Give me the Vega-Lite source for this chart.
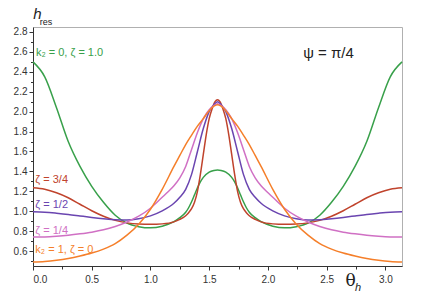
{
  "$schema": "https://vega.github.io/schema/vega-lite/v6.json",
  "autosize": "none",
  "width": 369,
  "height": 239,
  "padding": {"left": 33, "top": 27, "right": 28, "bottom": 34},
  "background": "white",
  "config": {
    "view": {"stroke": "#b0b0b0", "strokeWidth": 1},
    "font": "Liberation Sans",
    "axis": {"labelFont": "Liberation Sans", "labelFontSize": 10, "labelColor": "#333", "domainColor": "#333", "tickColor": "#333", "grid": false}
  },
  "datasets": {
    "curves": [
      {"s":"z1","t":0,"v":2.50},{"s":"z1","t":0.1,"v":2.35},{"s":"z1","t":0.2,"v":2.04},{"s":"z1","t":0.3,"v":1.70},{"s":"z1","t":0.4,"v":1.45},{"s":"z1","t":0.5,"v":1.25},{"s":"z1","t":0.6,"v":1.09},{"s":"z1","t":0.7,"v":0.96},{"s":"z1","t":0.8,"v":0.88},{"s":"z1","t":0.9,"v":0.845},{"s":"z1","t":1.0,"v":0.833},{"s":"z1","t":1.1,"v":0.85},{"s":"z1","t":1.2,"v":0.895},{"s":"z1","t":1.25,"v":0.935},{"s":"z1","t":1.3,"v":0.99},{"s":"z1","t":1.325,"v":1.035},{"s":"z1","t":1.35,"v":1.095},{"s":"z1","t":1.375,"v":1.165},{"s":"z1","t":1.4,"v":1.235},{"s":"z1","t":1.425,"v":1.295},{"s":"z1","t":1.45,"v":1.34},{"s":"z1","t":1.5,"v":1.393},{"s":"z1","t":1.54,"v":1.41},{"s":"z1","t":1.5708,"v":1.415},
      {"s":"z1","t":1.6016,"v":1.41},{"s":"z1","t":1.6416,"v":1.393},{"s":"z1","t":1.6916,"v":1.34},{"s":"z1","t":1.7166,"v":1.295},{"s":"z1","t":1.7416,"v":1.235},{"s":"z1","t":1.7666,"v":1.165},{"s":"z1","t":1.7916,"v":1.095},{"s":"z1","t":1.8166,"v":1.035},{"s":"z1","t":1.8416,"v":0.99},{"s":"z1","t":1.8916,"v":0.935},{"s":"z1","t":1.9416,"v":0.895},{"s":"z1","t":2.0416,"v":0.85},{"s":"z1","t":2.1416,"v":0.833},{"s":"z1","t":2.2416,"v":0.845},{"s":"z1","t":2.3416,"v":0.88},{"s":"z1","t":2.4416,"v":0.96},{"s":"z1","t":2.5416,"v":1.09},{"s":"z1","t":2.6416,"v":1.25},{"s":"z1","t":2.7416,"v":1.45},{"s":"z1","t":2.8416,"v":1.70},{"s":"z1","t":2.9416,"v":2.04},{"s":"z1","t":3.0416,"v":2.35},{"s":"z1","t":3.1416,"v":2.50},

      {"s":"z34","t":0,"v":1.235},{"s":"z34","t":0.1,"v":1.22},{"s":"z34","t":0.2,"v":1.185},{"s":"z34","t":0.3,"v":1.135},{"s":"z34","t":0.4,"v":1.07},{"s":"z34","t":0.5,"v":1.005},{"s":"z34","t":0.6,"v":0.95},{"s":"z34","t":0.7,"v":0.908},{"s":"z34","t":0.8,"v":0.883},{"s":"z34","t":0.9,"v":0.871},{"s":"z34","t":1.0,"v":0.868},{"s":"z34","t":1.1,"v":0.873},{"s":"z34","t":1.2,"v":0.893},{"s":"z34","t":1.25,"v":0.918},{"s":"z34","t":1.3,"v":0.955},{"s":"z34","t":1.325,"v":0.985},{"s":"z34","t":1.35,"v":1.025},{"s":"z34","t":1.375,"v":1.09},{"s":"z34","t":1.4,"v":1.20},{"s":"z34","t":1.425,"v":1.37},{"s":"z34","t":1.45,"v":1.57},{"s":"z34","t":1.475,"v":1.77},{"s":"z34","t":1.5,"v":1.93},{"s":"z34","t":1.525,"v":2.03},{"s":"z34","t":1.55,"v":2.10},{"s":"z34","t":1.5708,"v":2.12},
      {"s":"z34","t":1.5916,"v":2.10},{"s":"z34","t":1.6166,"v":2.03},{"s":"z34","t":1.6416,"v":1.93},{"s":"z34","t":1.6666,"v":1.77},{"s":"z34","t":1.6916,"v":1.57},{"s":"z34","t":1.7166,"v":1.37},{"s":"z34","t":1.7416,"v":1.20},{"s":"z34","t":1.7666,"v":1.09},{"s":"z34","t":1.7916,"v":1.025},{"s":"z34","t":1.8166,"v":0.985},{"s":"z34","t":1.8416,"v":0.955},{"s":"z34","t":1.8916,"v":0.918},{"s":"z34","t":1.9416,"v":0.893},{"s":"z34","t":2.0416,"v":0.873},{"s":"z34","t":2.1416,"v":0.868},{"s":"z34","t":2.2416,"v":0.871},{"s":"z34","t":2.3416,"v":0.883},{"s":"z34","t":2.4416,"v":0.908},{"s":"z34","t":2.5416,"v":0.95},{"s":"z34","t":2.6416,"v":1.005},{"s":"z34","t":2.7416,"v":1.07},{"s":"z34","t":2.8416,"v":1.135},{"s":"z34","t":2.9416,"v":1.185},{"s":"z34","t":3.0416,"v":1.22},{"s":"z34","t":3.1416,"v":1.235},

      {"s":"z12","t":0,"v":0.995},{"s":"z12","t":0.1,"v":0.99},{"s":"z12","t":0.2,"v":0.98},{"s":"z12","t":0.3,"v":0.968},{"s":"z12","t":0.4,"v":0.953},{"s":"z12","t":0.5,"v":0.938},{"s":"z12","t":0.6,"v":0.925},{"s":"z12","t":0.7,"v":0.915},{"s":"z12","t":0.8,"v":0.913},{"s":"z12","t":0.9,"v":0.925},{"s":"z12","t":1.0,"v":0.953},{"s":"z12","t":1.1,"v":1.003},{"s":"z12","t":1.2,"v":1.08},{"s":"z12","t":1.25,"v":1.14},{"s":"z12","t":1.3,"v":1.22},{"s":"z12","t":1.35,"v":1.37},{"s":"z12","t":1.4,"v":1.60},{"s":"z12","t":1.45,"v":1.83},{"s":"z12","t":1.5,"v":2.00},{"s":"z12","t":1.54,"v":2.07},{"s":"z12","t":1.5708,"v":2.10},
      {"s":"z12","t":1.6016,"v":2.07},{"s":"z12","t":1.6416,"v":2.00},{"s":"z12","t":1.6916,"v":1.83},{"s":"z12","t":1.7416,"v":1.60},{"s":"z12","t":1.7916,"v":1.37},{"s":"z12","t":1.8416,"v":1.22},{"s":"z12","t":1.8916,"v":1.14},{"s":"z12","t":1.9416,"v":1.08},{"s":"z12","t":2.0416,"v":1.003},{"s":"z12","t":2.1416,"v":0.953},{"s":"z12","t":2.2416,"v":0.925},{"s":"z12","t":2.3416,"v":0.913},{"s":"z12","t":2.4416,"v":0.915},{"s":"z12","t":2.5416,"v":0.925},{"s":"z12","t":2.6416,"v":0.938},{"s":"z12","t":2.7416,"v":0.953},{"s":"z12","t":2.8416,"v":0.968},{"s":"z12","t":2.9416,"v":0.98},{"s":"z12","t":3.0416,"v":0.99},{"s":"z12","t":3.1416,"v":0.995},

      {"s":"z14","t":0,"v":0.74},{"s":"z14","t":0.1,"v":0.742},{"s":"z14","t":0.2,"v":0.749},{"s":"z14","t":0.3,"v":0.759},{"s":"z14","t":0.4,"v":0.773},{"s":"z14","t":0.5,"v":0.79},{"s":"z14","t":0.6,"v":0.813},{"s":"z14","t":0.7,"v":0.847},{"s":"z14","t":0.8,"v":0.892},{"s":"z14","t":0.9,"v":0.95},{"s":"z14","t":1.0,"v":1.03},{"s":"z14","t":1.1,"v":1.14},{"s":"z14","t":1.15,"v":1.195},{"s":"z14","t":1.2,"v":1.255},{"s":"z14","t":1.25,"v":1.335},{"s":"z14","t":1.3,"v":1.45},{"s":"z14","t":1.35,"v":1.62},{"s":"z14","t":1.4,"v":1.79},{"s":"z14","t":1.45,"v":1.93},{"s":"z14","t":1.5,"v":2.02},{"s":"z14","t":1.54,"v":2.06},{"s":"z14","t":1.5708,"v":2.08},
      {"s":"z14","t":1.6016,"v":2.06},{"s":"z14","t":1.6416,"v":2.02},{"s":"z14","t":1.6916,"v":1.93},{"s":"z14","t":1.7416,"v":1.79},{"s":"z14","t":1.7916,"v":1.62},{"s":"z14","t":1.8416,"v":1.45},{"s":"z14","t":1.8916,"v":1.335},{"s":"z14","t":1.9416,"v":1.255},{"s":"z14","t":1.9916,"v":1.195},{"s":"z14","t":2.0416,"v":1.14},{"s":"z14","t":2.1416,"v":1.03},{"s":"z14","t":2.2416,"v":0.95},{"s":"z14","t":2.3416,"v":0.892},{"s":"z14","t":2.4416,"v":0.847},{"s":"z14","t":2.5416,"v":0.813},{"s":"z14","t":2.6416,"v":0.79},{"s":"z14","t":2.7416,"v":0.773},{"s":"z14","t":2.8416,"v":0.759},{"s":"z14","t":2.9416,"v":0.749},{"s":"z14","t":3.0416,"v":0.742},{"s":"z14","t":3.1416,"v":0.74},

      {"s":"z0","t":0,"v":0.49},{"s":"z0","t":0.1,"v":0.495},{"s":"z0","t":0.2,"v":0.507},{"s":"z0","t":0.3,"v":0.525},{"s":"z0","t":0.4,"v":0.55},{"s":"z0","t":0.5,"v":0.58},{"s":"z0","t":0.6,"v":0.62},{"s":"z0","t":0.7,"v":0.675},{"s":"z0","t":0.8,"v":0.76},{"s":"z0","t":0.9,"v":0.87},{"s":"z0","t":1.0,"v":1.02},{"s":"z0","t":1.1,"v":1.22},{"s":"z0","t":1.2,"v":1.45},{"s":"z0","t":1.25,"v":1.56},{"s":"z0","t":1.3,"v":1.67},{"s":"z0","t":1.35,"v":1.765},{"s":"z0","t":1.4,"v":1.855},{"s":"z0","t":1.45,"v":1.93},{"s":"z0","t":1.5,"v":2.01},{"s":"z0","t":1.54,"v":2.055},{"s":"z0","t":1.5708,"v":2.07},
      {"s":"z0","t":1.6016,"v":2.055},{"s":"z0","t":1.6416,"v":2.01},{"s":"z0","t":1.6916,"v":1.93},{"s":"z0","t":1.7416,"v":1.855},{"s":"z0","t":1.7916,"v":1.765},{"s":"z0","t":1.8416,"v":1.67},{"s":"z0","t":1.8916,"v":1.56},{"s":"z0","t":1.9416,"v":1.45},{"s":"z0","t":2.0416,"v":1.22},{"s":"z0","t":2.1416,"v":1.02},{"s":"z0","t":2.2416,"v":0.87},{"s":"z0","t":2.3416,"v":0.76},{"s":"z0","t":2.4416,"v":0.675},{"s":"z0","t":2.5416,"v":0.62},{"s":"z0","t":2.6416,"v":0.58},{"s":"z0","t":2.7416,"v":0.55},{"s":"z0","t":2.8416,"v":0.525},{"s":"z0","t":2.9416,"v":0.507},{"s":"z0","t":3.0416,"v":0.495},{"s":"z0","t":3.1416,"v":0.49}
    ],
    "labels": [
      {"s":"z1","t":0.025,"v":2.59,"label":"k₂ = 0, ζ = 1.0"},
      {"s":"z34","t":0.02,"v":1.31,"label":"ζ = 3/4"},
      {"s":"z12","t":0.02,"v":1.06,"label":"ζ = 1/2"},
      {"s":"z14","t":0.02,"v":0.80,"label":"ζ = 1/4"},
      {"s":"z0","t":0.02,"v":0.61,"label":"k₂ = 1, ζ = 0"}
    ],
    "psi": [{"t":2.30,"v":2.59,"label":"ψ = π/4"}],
    "sub1": [{"t":0.111,"v":2.869,"label":"res"}],
    "sub2": [{"t":2.768,"v":0.198,"label":"h"}]
  },
  "layer": [
    {
      "data": {"name": "curves"},
      "mark": {"type": "line", "strokeWidth": 1.5, "interpolate": "monotone"},
      "encoding": {
        "x": {"field": "t", "type": "quantitative",
              "scale": {"domain": [0, 3.1416], "nice": false, "zero": false},
              "axis": {"values": [0, 0.5, 1.0, 1.5, 2.0, 2.5, 3.0], "format": ".1f", "tickSize": 4, "labelPadding": 4,
                       "title": "θ", "titleFont": "DejaVu Serif", "titleFontSize": 17, "titleFontWeight": "normal", "titleColor": "#222",
                       "titleX": 317, "titleY": 19, "titleBaseline": "alphabetic", "titleAlign": "center"}},
        "y": {"field": "v", "type": "quantitative",
              "scale": {"domain": [0.45, 2.85], "nice": false, "zero": false},
              "axis": {"values": [0.6, 0.8, 1.0, 1.2, 1.4, 1.6, 1.8, 2.0, 2.2, 2.4, 2.6, 2.8], "format": ".1f", "tickSize": 4, "labelPadding": 2,
                       "title": "h", "titleAngle": 0, "titleFont": "Liberation Sans", "titleFontStyle": "italic", "titleFontSize": 15, "titleFontWeight": "normal", "titleColor": "#222",
                       "titleX": 4, "titleY": -9, "titleBaseline": "alphabetic", "titleAlign": "center"}},
        "color": {"field": "s", "type": "nominal", "legend": null,
                  "scale": {"domain": ["z1", "z34", "z12", "z14", "z0"], "range": ["#38a04a", "#c0432c", "#6a45b0", "#d070c4", "#f57f2a"]}}
      }
    },
    {
      "data": {"name": "labels"},
      "mark": {"type": "text", "align": "left", "baseline": "middle", "fontSize": 11},
      "encoding": {
        "x": {"field": "t", "type": "quantitative",
              "axis": {"values": [0.25, 0.75, 1.25, 1.75, 2.25, 2.75], "labels": false, "domain": false, "tickSize": 3, "orient": "bottom", "title": null}},
        "y": {"field": "v", "type": "quantitative",
              "axis": {"values": [0.5, 0.7, 0.9, 1.1, 1.3, 1.5, 1.7, 1.9, 2.1, 2.3, 2.5, 2.7], "labels": false, "domain": false, "tickSize": 2.5, "orient": "left", "title": null}},
        "text": {"field": "label"},
        "color": {"field": "s", "type": "nominal", "legend": null}
      }
    },
    {
      "data": {"name": "psi"},
      "mark": {"type": "text", "align": "left", "baseline": "middle", "fontSize": 15, "color": "#222"},
      "encoding": {
        "x": {"field": "t", "type": "quantitative", "axis": null},
        "y": {"field": "v", "type": "quantitative", "axis": null},
        "text": {"field": "label"}
      }
    },
    {
      "data": {"name": "sub1"},
      "mark": {"type": "text", "align": "center", "baseline": "alphabetic", "fontSize": 9, "color": "#222"},
      "encoding": {
        "x": {"field": "t", "type": "quantitative", "axis": null},
        "y": {"field": "v", "type": "quantitative", "axis": null},
        "text": {"field": "label"}
      }
    },
    {
      "data": {"name": "sub2"},
      "mark": {"type": "text", "align": "center", "baseline": "alphabetic", "fontSize": 11, "fontStyle": "italic", "color": "#222"},
      "encoding": {
        "x": {"field": "t", "type": "quantitative", "axis": null},
        "y": {"field": "v", "type": "quantitative", "axis": null},
        "text": {"field": "label"}
      }
    }
  ],
  "resolve": {"axis": {"x": "independent", "y": "independent"}}
}
